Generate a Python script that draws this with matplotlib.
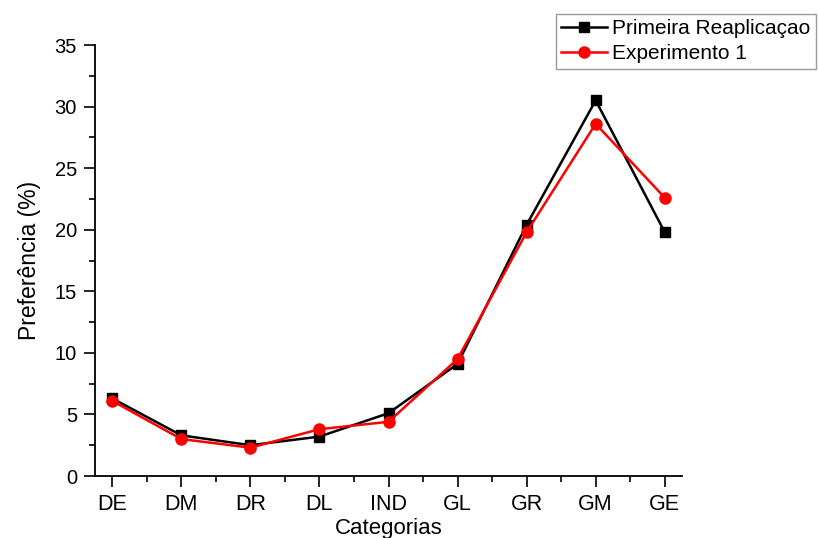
import numpy as np
import matplotlib.pyplot as plt
from matplotlib.ticker import MultipleLocator

plt.rcParams['font.family'] = ['Liberation Sans', 'DejaVu Sans']

categorias = ["DE", "DM", "DR", "DL", "IND", "GL", "GR", "GM", "GE"]
primeira_reaplicacao = [6.3, 3.3, 2.5, 3.2, 5.1, 9.1, 20.4, 30.5, 19.8]
experimento_1 = [6.1, 3.0, 2.3, 3.8, 4.4, 9.5, 19.8, 28.6, 22.6]

x = np.arange(len(categorias))

fig = plt.figure(figsize=(8.19, 5.38), dpi=100)
ax = fig.add_axes([95 / 819, 62 / 538, 587 / 819, 431 / 538])

ax.plot(x, primeira_reaplicacao, "k-", marker="s", markersize=7.5, linewidth=1.8,
        label="Primeira Reaplicaçao")
ax.plot(x, experimento_1, "r-", marker="o", markersize=8, linewidth=1.8,
        label="Experimento 1")

ax.set_xlim(-0.25, 8.25)
ax.set_ylim(0, 35)
ax.set_xticks(x)
ax.set_xticklabels(categorias)
ax.xaxis.set_minor_locator(MultipleLocator(0.5))
ax.yaxis.set_major_locator(MultipleLocator(5))
ax.yaxis.set_minor_locator(MultipleLocator(2.5))

for side in ["top", "right"]:
    ax.spines[side].set_visible(False)
for side in ["left", "bottom"]:
    ax.spines[side].set_linewidth(1.3)

ax.tick_params(which="major", direction="out", length=8, width=1.2, pad=5)
ax.tick_params(axis="y", which="major", labelsize=14.5)
ax.tick_params(axis="x", which="major", labelsize=15.5)
ax.tick_params(which="minor", direction="out", length=4, width=1.2)

ax.set_xlabel("Categorias", fontsize=16, labelpad=2)
ax.set_ylabel("Preferência (%)", fontsize=16.5, labelpad=10)

leg = ax.legend(loc="upper left", bbox_to_anchor=(556 / 819, 1 - 14 / 538),
                bbox_transform=fig.transFigure, fontsize=15, frameon=True,
                fancybox=False, borderpad=0.25, handlelength=2.2,
                handletextpad=0.25, labelspacing=0.3, borderaxespad=0)
leg.get_frame().set_edgecolor("#808080")
leg.get_frame().set_linewidth(1.0)

fig.savefig("out.png", dpi=100)
